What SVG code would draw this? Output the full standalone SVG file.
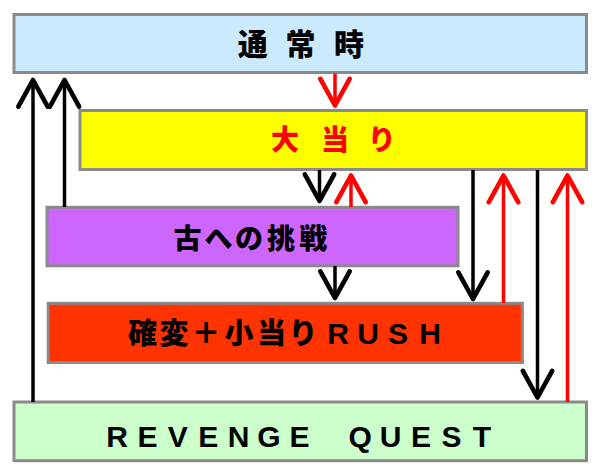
<svg xmlns="http://www.w3.org/2000/svg" width="600" height="475" viewBox="0 0 600 475">
<style>
.box{stroke:#8a8a8a;stroke-width:3}
.jp{font-family:"Noto Sans CJK JP","Noto Sans CJK SC",sans-serif;font-weight:900;text-anchor:middle}
.en{font-family:"Liberation Sans",Arial,sans-serif;font-weight:bold;text-anchor:middle}
.blk{stroke:#000;stroke-width:3.5;fill:none;marker-end:url(#hb)}
.red{stroke:#ff0000;stroke-width:3.5;fill:none;marker-end:url(#hr)}
</style>
<defs>
<marker id="hb" markerUnits="userSpaceOnUse" orient="auto" refX="0" refY="0" markerWidth="40" markerHeight="40" viewBox="-25 -15 30 30" overflow="visible">
<path d="M-20,-11 L0,0 L-20,11" fill="none" stroke="#000" stroke-width="3.5" stroke-linejoin="round" stroke-linecap="round"/>
</marker>
<marker id="hr" markerUnits="userSpaceOnUse" orient="auto" refX="0" refY="0" markerWidth="40" markerHeight="40" viewBox="-25 -15 30 30" overflow="visible">
<path d="M-20,-11 L0,0 L-20,11" fill="none" stroke="#ff0000" stroke-width="3.5" stroke-linejoin="round" stroke-linecap="round"/>
</marker>
</defs>
<rect width="600" height="475" fill="#ffffff"/>
<g id="normal">
<rect class="box" x="14" y="14.5" width="572.5" height="58" fill="#cceaff"/>
<text class="jp" x="252.7 300.5 349" y="55" font-size="30">通常時</text>
</g>
<g id="bigwin">
<rect class="box" x="80" y="110.5" width="506.5" height="59" fill="#ffff00"/>
<text class="jp" x="285 335 381.7" y="150" font-size="28" fill="#ff0000">大当り</text>
</g>
<g id="challenge">
<rect class="box" x="47" y="207.3" width="411" height="58.5" fill="#cc66ff"/>
<text class="jp" x="187.5 218.5 249 281 313.3" y="249" font-size="28">古への挑戦</text>
</g>
<g id="rush">
<rect class="box" x="48.2" y="303.3" width="474.2" height="59.2" fill="#ff3300"/>
<text class="jp" x="142.5 174 206 239 271.5 303" y="344.3" font-size="29">確変＋小当り</text>
<text class="en" x="338 368 398 430" y="343.5" font-size="30">RUSH</text>
</g>
<g id="revenge">
<rect class="box" x="14" y="402" width="572.5" height="58.7" fill="#ccffcc"/>
<text class="en" x="117 147.4 177.8 208.2 238.6 269 299.4 329.8 360.2 390.6 421 451.4 481.8" y="447" font-size="30">REVENGE QUEST</text>
</g>
<g id="connectors">
<line class="blk" x1="33" y1="402" x2="33" y2="80"/>
<line class="blk" x1="64.5" y1="207" x2="64.5" y2="80"/>
<line class="red" x1="335" y1="73.5" x2="335" y2="105.5"/>
<line class="blk" x1="319.5" y1="170" x2="319.5" y2="201"/>
<line class="red" x1="351" y1="207" x2="351" y2="175.5"/>
<line class="blk" x1="473" y1="170" x2="473" y2="299"/>
<line class="red" x1="503.5" y1="303" x2="503.5" y2="175.5"/>
<line class="blk" x1="537.5" y1="170" x2="537.5" y2="397.5"/>
<line class="red" x1="567.5" y1="402" x2="567.5" y2="175.5"/>
<line class="blk" x1="335" y1="266" x2="335" y2="298"/>
</g>
</svg>
